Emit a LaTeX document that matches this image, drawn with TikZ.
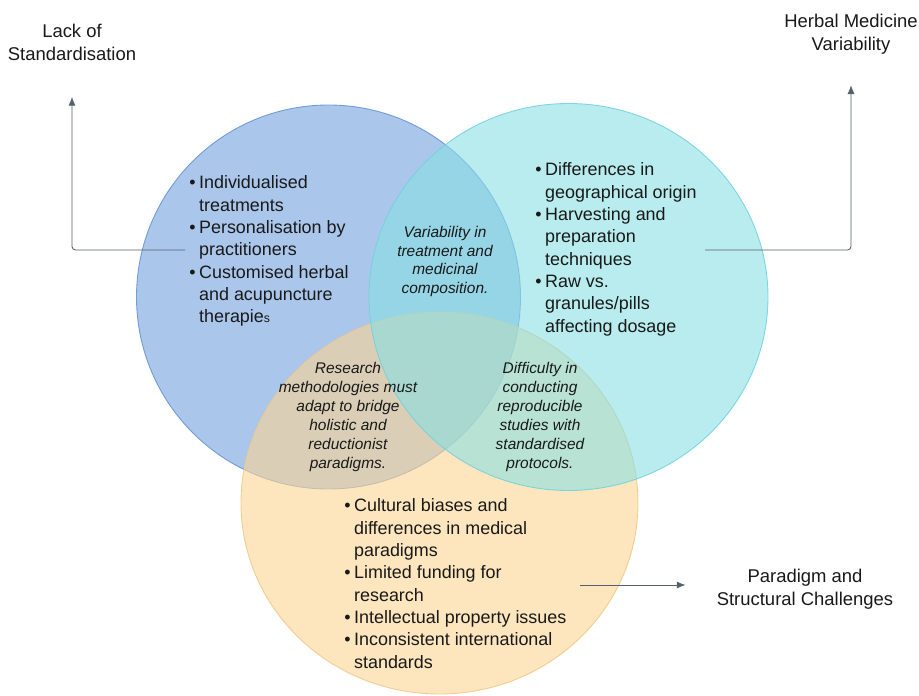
\documentclass[tikz,border=0pt]{standalone}
\usepackage{fontspec}
\setmainfont{Liberation Sans}
\usetikzlibrary{positioning, arrows.meta, shapes.geometric}

\definecolor{StdColor}{RGB}{113,160,222}
\definecolor{StdLine}{RGB}{100,150,215}
\definecolor{HerbColor}{RGB}{137,223,227}
\definecolor{HerbLine}{RGB}{115,210,222}
\definecolor{ParaColor}{RGB}{251,213,147}
\definecolor{ParaLine}{RGB}{243,200,135}
\definecolor{LinkColor}{RGB}{85,95,110}
\definecolor{TextColor}{RGB}{25,25,25}

\newcommand{\bul}{\textbullet}

\tikzset{
  set/.style={inner sep=0pt, fill opacity=0.6, draw opacity=0.9, line width=0.5pt},
  heading/.style={align=center, font=\fontsize{10.5}{13}\selectfont, text=TextColor},
  points/.style={anchor=north west, inner sep=0pt, font=\fontsize{10.2}{12.7}\selectfont, text=TextColor},
  overlap/.style={align=center, inner sep=0pt, font=\fontsize{8.8}{10.8}\selectfont\itshape, text=TextColor},
  link/.style={LinkColor, line width=0.5pt, -{Latex[length=5pt,width=4pt]}, rounded corners=2pt}
}

\begin{document}
\begin{tikzpicture}
\useasboundingbox (0,0) rectangle (18.38,13.9);

% the three sets (herbal one on top)
\node[set, circle, fill=StdColor, draw=StdLine, minimum size=7.68cm] (stdset) at (6.57,7.96) {};
\node[set, ellipse, fill=ParaColor, draw=ParaLine, minimum width=7.94cm, minimum height=7.64cm] (paraset) at (8.79,3.84) {};
\node[set, ellipse, fill=HerbColor, draw=HerbLine, minimum width=7.98cm, minimum height=7.74cm] (herbset) at (11.37,7.96) {};

% lists inside each set
\node[points] (stdlist) at (3.78,10.44) {%
  \begin{tabular}{@{}l@{\hspace{2pt}}l@{}}
  \bul & Individualised\\
       & treatments\\
  \bul & Personalisation by\\
       & practitioners\\
  \bul & Customised herbal\\
       & and acupuncture\\
       & therapie{\fontsize{7}{8}\selectfont s}
  \end{tabular}};

\node[points] (herblist) at (10.70,10.70) {%
  \begin{tabular}{@{}l@{\hspace{2pt}}l@{}}
  \bul & Differences in\\
       & geographical origin\\
  \bul & Harvesting and\\
       & preparation\\
       & techniques\\
  \bul & Raw vs.\\
       & granules/pills\\
       & affecting dosage
  \end{tabular}};

\node[points] (paralist) at (6.88,3.98) {%
  \begin{tabular}{@{}l@{\hspace{2pt}}l@{}}
  \bul & Cultural biases and\\
       & differences in medical\\
       & paradigms\\
  \bul & Limited funding for\\
       & research\\
  \bul & Intellectual property issues\\
  \bul & Inconsistent international\\
       & standards
  \end{tabular}};

% overlaps
\node[overlap] (stdherb) at (8.90,8.67) {Variability in\\treatment and\\medicinal\\composition.};
\node[overlap] (stdpara) at (6.96,5.56) {Research\\methodologies must\\adapt to bridge\\holistic and\\reductionist\\paradigms.};
\node[overlap] (herbpara) at (10.80,5.56) {Difficulty in\\conducting\\reproducible\\studies with\\standardised\\protocols.};

% headings
\node[heading] (lack) at (1.44,13.05) {Lack of\\Standardisation};
\node[heading] (herbal) at (17.02,13.22) {Herbal Medicine\\Variability};
\node[heading] (paradigm) at (16.10,2.12) {Paradigm and\\Structural Challenges};

% links from the sets to their headings
\coordinate (stdfrom) at (3.70,8.90);
\coordinate (herbfrom) at (14.10,8.90);
\coordinate (parafrom) at (11.60,2.20);
\draw[link] (stdfrom) -| ([yshift=-0.60cm]lack.south);
\draw[link] (herbfrom) -| ([yshift=-0.50cm]herbal.south);
\draw[link, shorten >=0.50cm] (parafrom) -- (parafrom -| paradigm.west);
\end{tikzpicture}
\end{document}
